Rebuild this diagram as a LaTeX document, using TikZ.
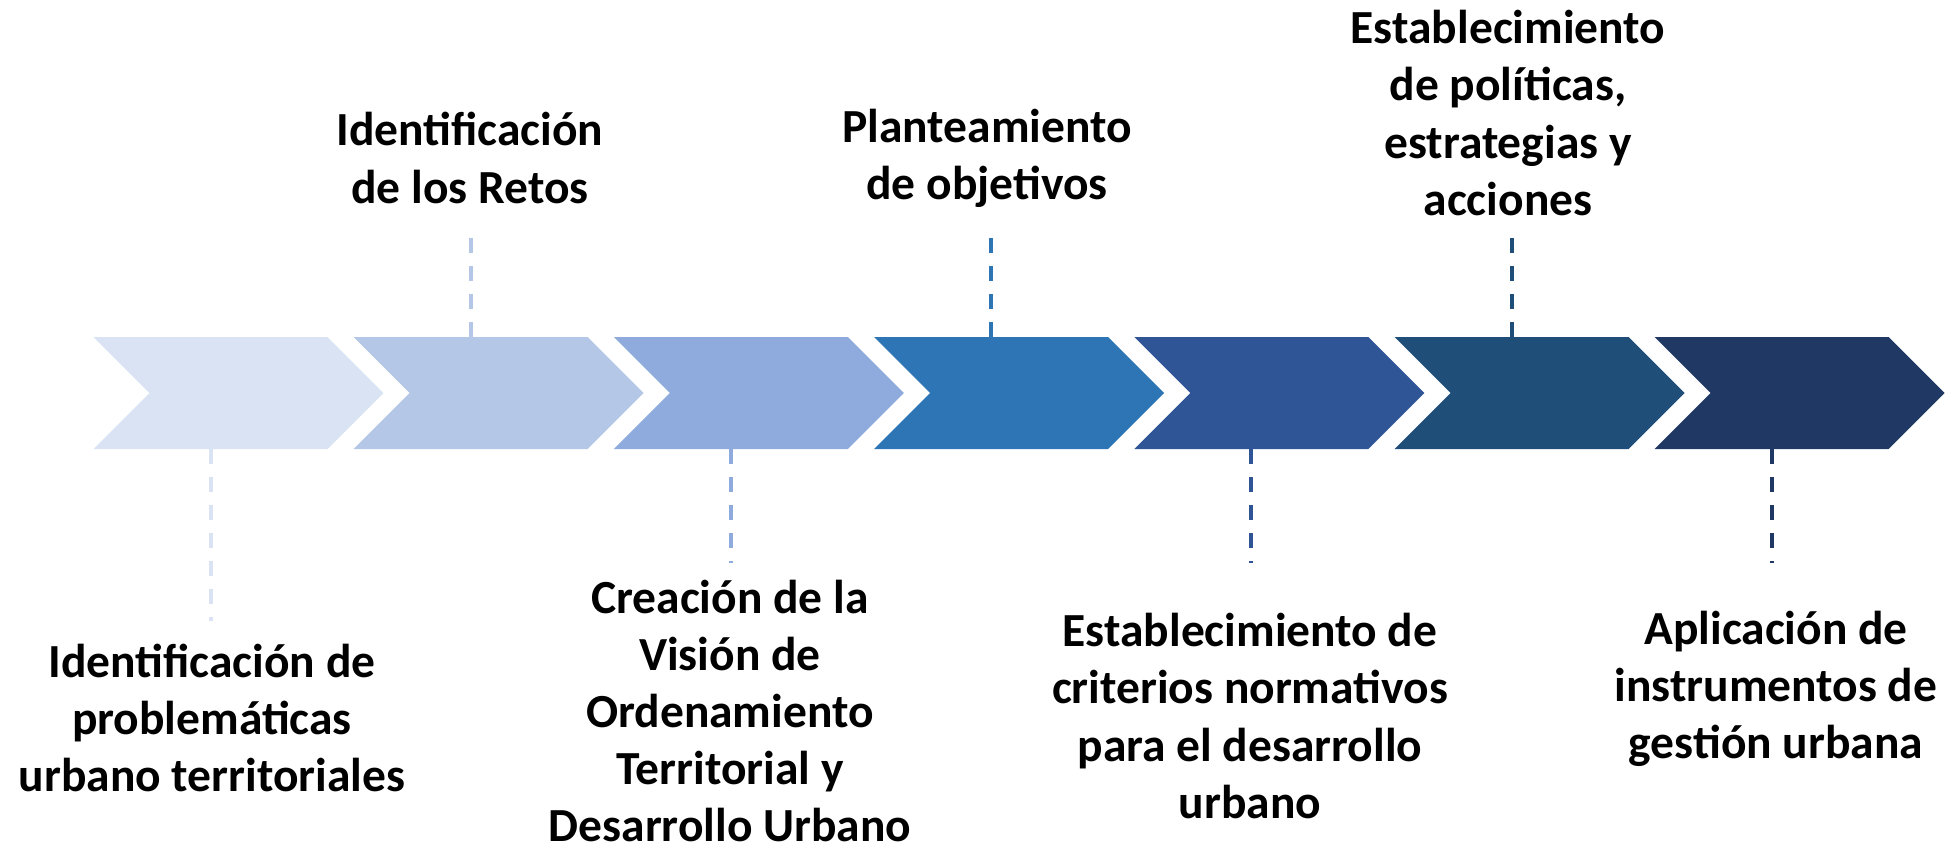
\documentclass[tikz,border=0pt]{standalone}
\usepackage{fontspec}
\setmainfont{Carlito}
\definecolor{cA}{HTML}{DAE3F3}
\definecolor{cB}{HTML}{B4C7E7}
\definecolor{cC}{HTML}{8FAADC}
\definecolor{cD}{HTML}{2E75B6}
\definecolor{cE}{HTML}{2F5597}
\definecolor{cF}{HTML}{1F4E79}
\definecolor{cG}{HTML}{203864}
\tikzset{
  lbl/.style={align=center,inner sep=0pt,font=\bfseries\fontsize{23.75pt}{28.6pt}\selectfont,text=black},
  dline/.style={line width=2pt,dash pattern=on 7.5pt off 6.5pt}
}
\begin{document}
\begin{tikzpicture}[x=0.5pt,y=-0.5pt]
\useasboundingbox (0,0) rectangle (1954,853);
% chevrons
\newcommand{\chev}[2]{\fill[#2] (#1,337) -- ++(234,0) -- ++(56,56) -- ++(-56,56) -- ++(-234,0) -- ++(56,-56) -- cycle;}
\chev{93.5}{cA}
\chev{353.7}{cB}
\chev{613.9}{cC}
\chev{874.1}{cD}
\chev{1134.3}{cE}
\chev{1394.5}{cF}
\chev{1654.7}{cG}
% connector end points
\coordinate (a1) at (210.5,449);  \coordinate (a2) at (210.5,621);
\coordinate (b1) at (470.7,337);  \coordinate (b2) at (470.7,237);
\coordinate (c1) at (730.9,449);  \coordinate (c2) at (730.9,563);
\coordinate (d1) at (991.1,337);  \coordinate (d2) at (991.1,237);
\coordinate (e1) at (1251.3,449); \coordinate (e2) at (1251.3,563);
\coordinate (f1) at (1511.5,337); \coordinate (f2) at (1511.5,237);
\coordinate (g1) at (1771.7,449); \coordinate (g2) at (1771.7,563);
\draw[dline,cA] (a1) -- (a2);
\draw[dline,cB] (b1) -- (b2);
\draw[dline,cC] (c1) -- (c2);
\draw[dline,cD] (d1) -- (d2);
\draw[dline,cE] (e1) -- (e2);
\draw[dline,cF] (f1) -- (f2);
\draw[dline,cG] (g1) -- (g2);
% labels
\node[lbl] (t1) at (212,718) {Identificación de\\problemáticas\\urbano territoriales};
\node[lbl] (t2) at (470,158) {Identificación\\de los Retos};
\node[lbl] (t3) at (730,711) {Creación de la\\Visión de\\Ordenamiento\\Territorial y\\Desarrollo Urbano};
\node[lbl] (t4) at (987,158) {Planteamiento\\de objetivos};
\node[lbl] (t5) at (1250,716) {Establecimiento de\\criterios normativos\\para el desarrollo\\urbano};
\node[lbl] (t6) at (1508,113) {Establecimiento\\de políticas,\\estrategias y\\acciones};
\node[lbl] (t7) at (1776,689) {Aplicación de\\instrumentos de\\gestión urbana};
\end{tikzpicture}
\end{document}
